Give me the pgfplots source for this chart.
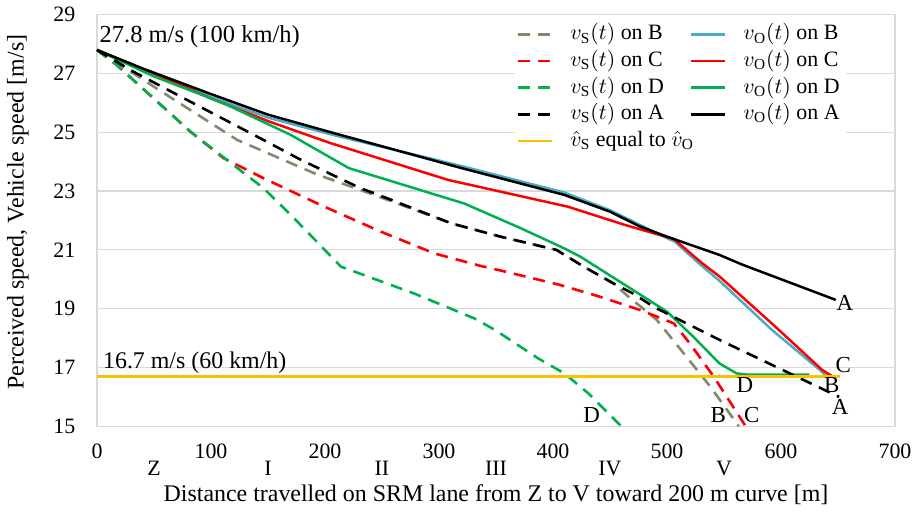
\documentclass[border=0pt]{standalone}
\usepackage{fontspec}
\setmainfont{Liberation Serif}
\usepackage{pgfplots}
\pgfplotsset{compat=1.18}
\definecolor{cB}{RGB}{75,172,198}
\definecolor{cBs}{RGB}{128,138,108}
\definecolor{cR}{RGB}{255,0,0}
\definecolor{cG}{RGB}{0,176,80}
\definecolor{cY}{RGB}{255,192,0}
\definecolor{gridc}{RGB}{217,217,217}
\begin{document}
\begin{tikzpicture}
\useasboundingbox (0,0) rectangle (459.5bp,256bp);
\begin{axis}[
  at={(48.5bp,42.85bp)}, anchor=south west,
  scale only axis, width=399bp, height=205.8bp,
  xmin=0, xmax=700, ymin=15, ymax=29,
  xtick={0,100,...,700}, ytick={15,17,...,29},
  ymajorgrids, major grid style={gridc, line width=0.6bp},
  axis line style={gridc, line width=0.6bp},
  major tick length=0pt,
  tick label style={font=\fontsize{11}{13}\selectfont},
  /pgf/number format/assume math mode=true,
  xticklabel style={yshift=-5.5bp},
  yticklabel style={xshift=-7.3bp},
  extra x ticks={50,150,250,350,450,550},
  extra x tick labels={Z,I,II,III,IV,V},
  extra x tick style={grid=none, xticklabel style={yshift=-8.5bp}},
  xlabel={Distance travelled on SRM lane from Z to V toward 200 m curve [m]},
  ylabel={Perceived speed, Vehicle speed [m/s]},
  label style={font=\fontsize{12}{14}\selectfont},
  xlabel style={at={(axis description cs:0.5,0)}, anchor=center, yshift=-34.3bp},
  ylabel style={at={(axis description cs:-0.099,0.52)}, anchor=center},
  clip=false,
  legend style={at={(rel axis cs:0.523,0.99)}, anchor=north west, draw=none, fill=white,
    inner sep=1bp, font=\fontsize{11}{13}\selectfont,
    nodes={inner ysep=1.4bp, text height=7.9bp, text depth=2.6bp},
    /tikz/every odd column/.append style={column sep=6.5bp},
    /tikz/every even column/.append style={column sep=11bp}},
  legend columns=2, legend cell align=left,
  legend image code/.code={\draw[#1] (0bp,0bp) -- (17bp,0bp);},
  solid/.style={line width=1.25bp},
  dsh/.style={line width=1.3bp, dash pattern=on 6bp off 4bp},
]
% v_S on B
\addplot[dsh, cBs] coordinates {(0,27.8)(64,26.2)(123,24.74)(194,23.55)(231,23.04)(311,21.9)(354,21.45)(403,21.0)(427,20.43)(453,19.86)(465,19.45)(491,18.62)(517,17.37)(538,16.35)(563,15.0)};
\addlegendentry{$v_{\mathrm{S}}(t)$ on B}
% v_O on B
\addplot[solid, cB] coordinates {(0,27.8)(40,27.15)(100,26.2)(150,25.5)(208,24.9)(320,23.85)(410,22.95)(450,22.35)(500,21.4)(507,21.28)(528,20.54)(546,19.95)(592,18.28)(634,16.92)(640,16.7)};
\addlegendentry{$v_{\mathrm{O}}(t)$ on B}
% v_S on C
\addplot[dsh, cR] coordinates {(0,27.8)(17,27.3)(82,25.02)(111,24.12)(146,23.44)(196,22.53)(249,21.62)(296,20.88)(337,20.45)(354,20.3)(406,19.81)(441,19.41)(476,18.96)(506,18.5)(520,17.82)(541,16.69)(569,15.0)};
\addlegendentry{$v_{\mathrm{S}}(t)$ on C}
% v_O on C
\addplot[solid, cR] coordinates {(0,27.8)(50,27.0)(100,26.15)(150,25.38)(205,24.63)(308,23.38)(413,22.47)(463,21.85)(506,21.37)(531,20.54)(546,20.1)(595,18.39)(636,16.92)(645,16.7)};
\addlegendentry{$v_{\mathrm{O}}(t)$ on C}
% v_S on D
\addplot[dsh, cG] coordinates {(0,27.8)(17,27.3)(82,25.02)(146,23.1)(170,22.19)(214,20.43)(278,19.52)(331,18.67)(349,18.28)(387,17.31)(410,16.8)(431,16.12)(460,15.0)};
\addlegendentry{$v_{\mathrm{S}}(t)$ on D}
% v_O on D
\addplot[solid, cG] coordinates {(0,27.8)(50,26.9)(111,25.99)(170,24.91)(221,23.78)(322,22.58)(371,21.75)(410,21.05)(424,20.77)(470,19.64)(500,18.9)(523,18.05)(546,17.14)(561,16.8)(570,16.76)(625,16.76)};
\addlegendentry{$v_{\mathrm{O}}(t)$ on D}
% v_S on A
\addplot[dsh, black] coordinates {(0,27.8)(32,27.06)(82,26.04)(146,24.74)(179,24.06)(231,23.1)(243,22.93)(311,21.9)(354,21.45)(403,21.0)(427,20.43)(453,19.86)(471,19.5)(488,19.07)(511,18.62)(546,17.94)(651,16.0)};
\addlegendentry{$v_{\mathrm{S}}(t)$ on A}
% v_O on A
\addplot[solid, black] coordinates {(0,27.8)(38,27.2)(100,26.3)(150,25.6)(208,24.97)(320,23.78)(410,22.87)(450,22.3)(476,21.8)(500,21.45)(546,20.83)(566,20.5)(648,19.3)};
\addlegendentry{$v_{\mathrm{O}}(t)$ on A}
% equal line
\addplot[line width=1.3bp, cY] coordinates {(0,16.7)(652,16.7)};
\addlegendentry{\rlap{$\hat{v}_{\mathrm{S}}$ equal to $\hat{v}_{\mathrm{O}}$}}

\node[anchor=west, inner sep=0pt, font=\fontsize{12.3}{14}\selectfont] at (axis cs:2,28.24) {27.8 m/s (100 km/h)};
\node[anchor=west, inner sep=0pt, font=\fontsize{12}{14}\selectfont] at (axis cs:5,17.15) {16.7 m/s (60 km/h)};
\begin{scope}[every node/.style={inner sep=0pt, font=\fontsize{11.5}{13}\selectfont}]
\node at (axis cs:656,19.18) {A};
\node at (axis cs:654.6,17.09) {C};
\node at (axis cs:644.5,16.4) {B};
\node at (axis cs:651.8,15.67) {A};
\node at (axis cs:568.4,16.4) {D};
\node at (axis cs:434,15.38) {D};
\node at (axis cs:545,15.38) {B};
\node at (axis cs:574.3,15.38) {C};
\end{scope}
\end{axis}
\end{tikzpicture}
\end{document}
